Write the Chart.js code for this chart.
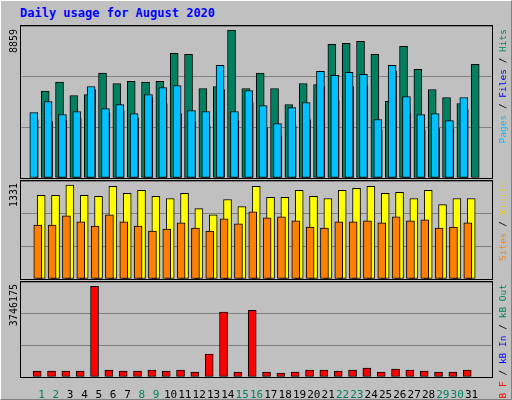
<!DOCTYPE html>
<html>
<head>
<meta charset="utf-8">
<script src="https://cdn.jsdelivr.net/npm/chart.js@4/dist/chart.umd.min.js"></script>
<style>
  html, body { margin: 0; padding: 0; }
  #frame { position: relative; width: 510px; height: 398px; background: #c0c0c0; border: 1px solid #808080; border-top-color: #fff; border-left-color: #fff; overflow: hidden; font-family: "DejaVu Sans Mono", monospace; }
  #title { position: absolute; left: 19px; top: 5px; font-size: 12px; font-weight: bold; color: #0000ff; }
  .panel { position: absolute; left: 20px; width: 471px; }
  .panel canvas { position: absolute; left: 0; top: 0; }
  .box { position: absolute; left: 19px; width: 471px; border: 1px solid #000; pointer-events: none; }
  .vlab { position: absolute; writing-mode: vertical-rl; transform: rotate(180deg); font-size: 10px; white-space: nowrap; }
  .rlab { font-size: 9.5px; }
</style>
</head>
<body>
<div id="frame">
  <div id="title">Daily usage for August 2020</div>

  <div class="panel" style="top:25px;height:152px"><canvas id="c1" width="471" height="152"></canvas></div>
  <div class="panel" style="top:180px;height:98px"><canvas id="c2" width="471" height="98"></canvas></div>
  <div class="panel" style="top:281px;height:118px"><canvas id="c3" width="471" height="118"></canvas></div>

  <div class="box" style="top:24px;height:152px"></div>
  <div class="box" style="top:179px;height:98px"></div>
  <div class="box" style="top:280px;height:95px"></div>

  <div class="vlab" style="left:7px;top:28px;color:#000">8859</div>
  <div class="vlab" style="left:7px;top:182px;color:#000">1331</div>
  <div class="vlab" style="left:7px;top:283px;color:#000">3746175</div>

  <div class="vlab rlab" style="left:496px;top:28px"><span style="color:#00c0ff">Pages</span> / <span style="color:#0000ff">Files</span> / <span style="color:#008060">Hits</span></div>
  <div class="vlab rlab" style="left:496px;top:180px"><span style="color:#ff8000">Sites</span> / <span style="color:#e8c800">Visits</span></div>
  <div class="vlab rlab" style="left:496px;top:283px"><span style="color:#ff0000">kB F</span> / <span style="color:#0000ff">kB In</span> / <span style="color:#008060">kB Out</span></div>
</div>
<script>
const days = Array.from({ length: 31 }, (_, i) => i + 1);
const weekendDays = [1, 2, 8, 9, 15, 16, 22, 23, 29, 30];

const hits = [5200, 5740, 4940, 5000, 6280, 5660, 5780, 5740, 5780, 7460, 7400, 5360, 5480, 8859, 5360, 6280,
  5360, 4400, 5660, 5600, 8000, 8060, 8180, 7400, 4600, 7880, 6500, 5300, 4820, 4460, 6800];
const files = [3920, 4580, 3800, 3980, 5480, 4160, 4400, 3860, 5000, 5420, 5540, 4040, 3980, 6740, 3980, 5240,
  4340, 3260, 4220, 4520, 6380, 6140, 6320, 6200, 3500, 6740, 4880, 3800, 3860, 3440, 4820];
const pages = [3500, 3380, 3440, 3560, 5300, 3920, 4040, 3620, 4820, 4460, 3860, 3380, 3140, 5300, 3440, 4520,
  3020, 2540, 3140, 3500, 5480, 4640, 5480, 5540, 2900, 6380, 3860, 2900, 2960, 2960, 4100];
const visits = [1186, 1186, 1331, 1186, 1171, 1316, 1215, 1258, 1171, 1142, 1215, 998, 911, 1128, 1027, 1316,
  1157, 1157, 1258, 1171, 1142, 1258, 1287, 1316, 1215, 1229, 1142, 1258, 1056, 1142, 1142];
const sites = [766, 766, 897, 810, 752, 911, 810, 752, 680, 709, 795, 723, 680, 853, 781, 954,
  868, 882, 824, 737, 723, 810, 810, 824, 795, 882, 824, 839, 723, 737, 795];
const kbF = [247000, 247000, 247000, 247000, 3746175, 288000, 247000, 247000, 288000, 247000, 288000, 206000,
  947000, 2676000, 206000, 2758000, 206000, 165000, 206000, 288000, 288000, 247000, 288000, 370000, 206000,
  329000, 288000, 247000, 206000, 206000, 288000];

function pts(values, shift) {
  return values.map((v, i) => ({ x: days[i] + shift, y: v }));
}

function bars(values, shift, color, width, order) {
  return {
    data: pts(values, shift), backgroundColor: color, borderColor: '#000', borderWidth: 1,
    barThickness: width, order, borderSkipped: false,
  };
}

function panel(id, datasets, yMax, showDays) {
  new Chart(document.getElementById(id), {
    type: 'bar',
    data: { datasets },
    options: {
      responsive: false, animation: false, devicePixelRatio: 1,
      layout: { padding: 0 },
      plugins: { legend: { display: false }, tooltip: { enabled: false } },
      scales: {
        x: {
          type: 'linear', min: 0.1, max: 31.9, display: showDays,
          grid: { display: false }, border: { display: false },
          afterBuildTicks: s => { s.ticks = days.map(d => ({ value: d })); },
          afterFit: s => { s.height = showDays ? 23 : 0; },
          ticks: {
            autoSkip: false, maxRotation: 0, padding: 4,
            font: { family: 'DejaVu Sans Mono', size: 11 },
            color: c => weekendDays.includes(c.tick.value) ? '#008060' : '#000',
          },
        },
        y: {
          min: 0, max: yMax, display: true,
          ticks: { display: false, stepSize: yMax / 3 },
          grid: { color: '#808080', drawTicks: false },
          border: { display: false },
        },
      },
    },
  });
}

panel('c1', [
  bars(hits, -0.3, '#008060', 8, 3),
  bars(pages, -0.33, '#0000ff', 3, 2),
  bars(files, 0.02, '#00c0ff', 8, 1),
], 9100, false);

panel('c2', [
  bars(visits, -0.3, '#ffff00', 8, 2),
  bars(sites, 0.02, '#ff8000', 8, 1),
], 1390, false);

panel('c3', [
  bars(kbF, -0.3, '#ff0000', 8, 1),
], 3923000, true);
</script>
</body>
</html>
